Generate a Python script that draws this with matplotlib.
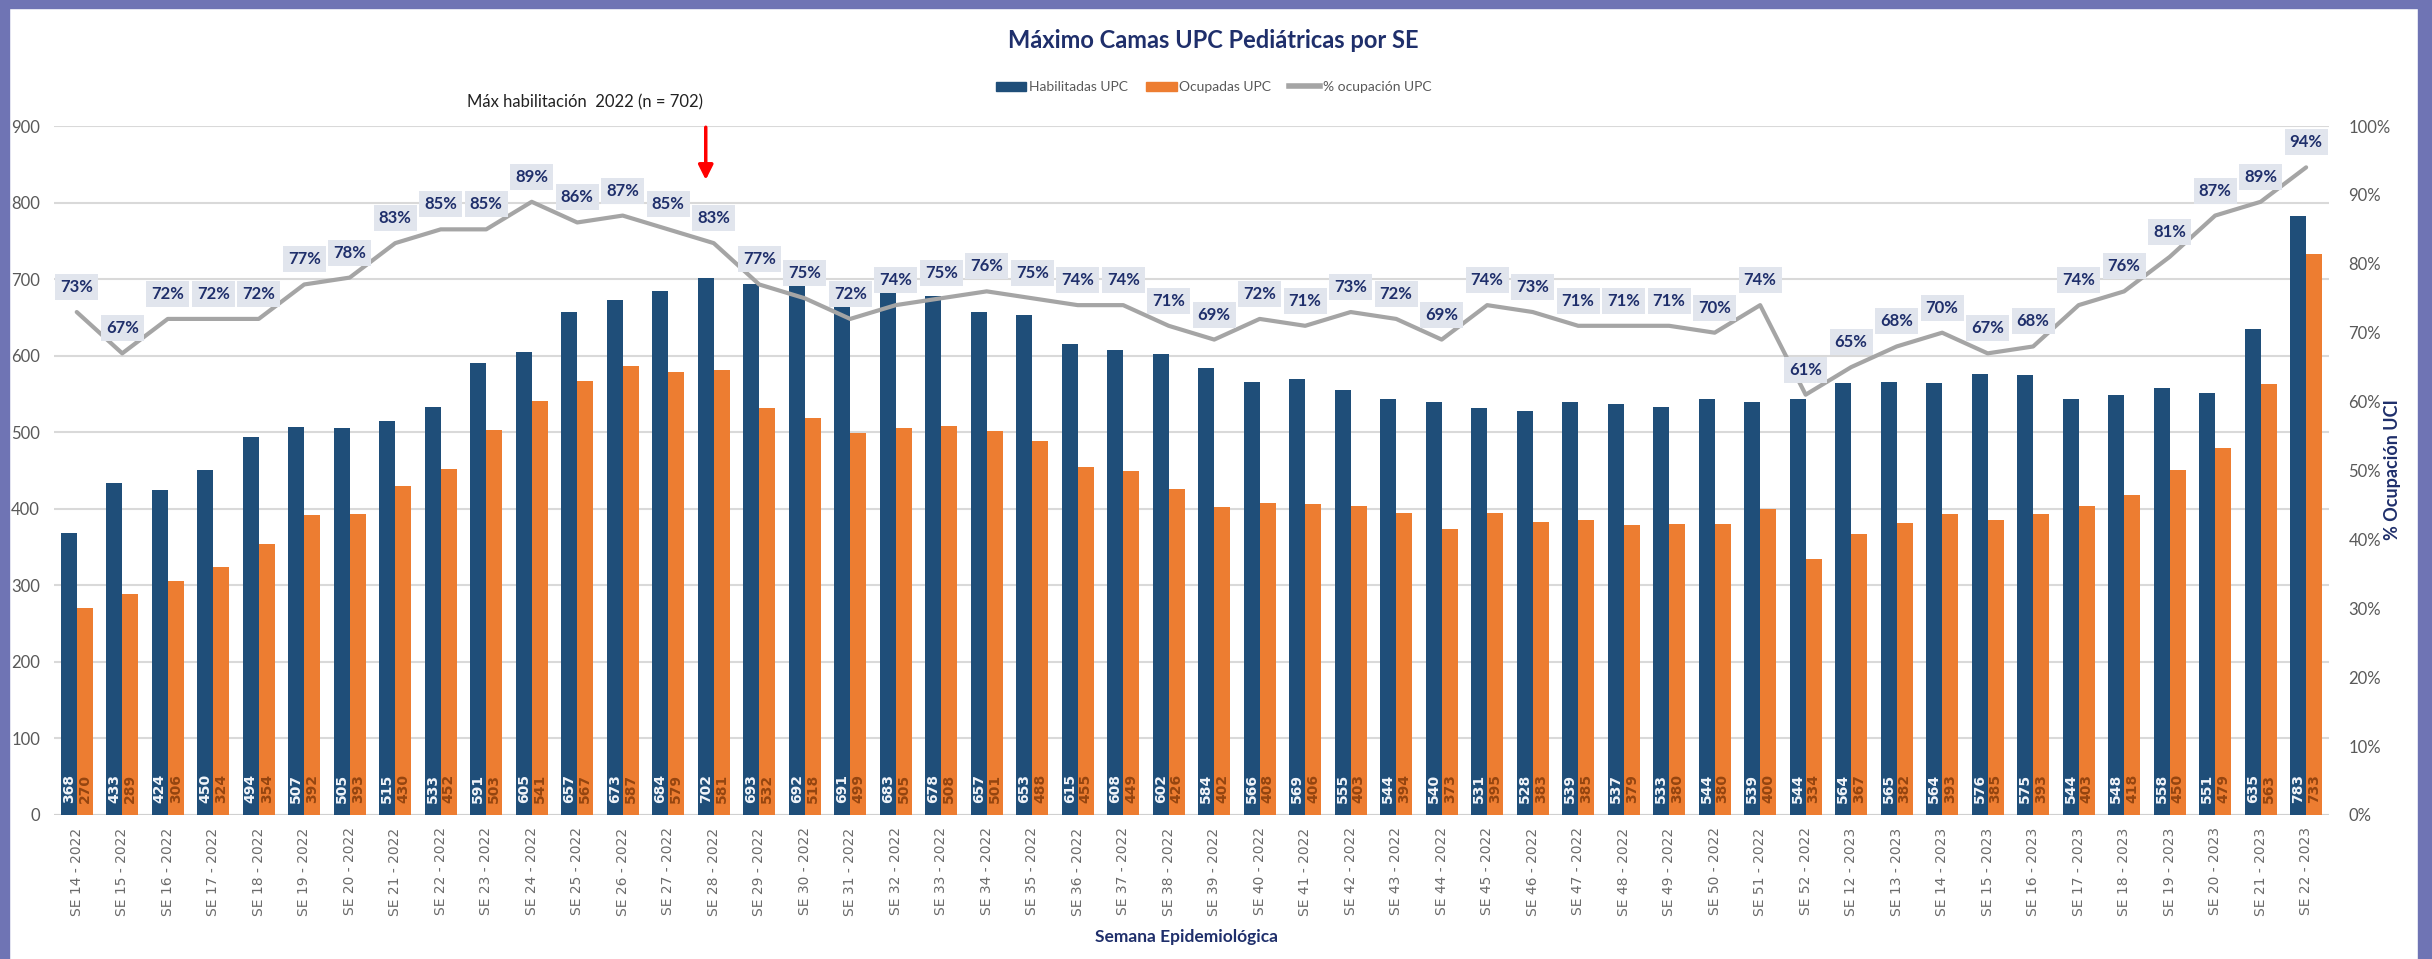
#!/usr/bin/env python3
import matplotlib
matplotlib.use("Agg")
import matplotlib.pyplot as plt
from matplotlib.patches import Patch, Rectangle
from matplotlib.lines import Line2D
from matplotlib.ticker import FuncFormatter, MultipleLocator

weeks_2022 = list(range(14, 53))
weeks_2023 = list(range(12, 23))
labels = ["SE %d - 2022" % w for w in weeks_2022] + \
    ["SE %d - 2023" % w for w in weeks_2023]

habilitadas = [368, 433, 424, 450, 494, 507, 505, 515, 533, 591,
               605, 657, 673, 684, 702, 693, 692, 691, 683, 678,
               657, 653, 615, 608, 602, 584, 566, 569, 555, 544,
               540, 531, 528, 539, 537, 533, 544, 539, 544,
               564, 565, 564, 576, 575, 544, 548, 558, 551, 635, 783]
ocupadas = [270, 289, 306, 324, 354, 392, 393, 430, 452, 503,
            541, 567, 587, 579, 581, 532, 518, 499, 505, 508,
            501, 488, 455, 449, 426, 402, 408, 406, 403, 394,
            373, 395, 383, 385, 379, 380, 380, 400, 334,
            367, 382, 393, 385, 393, 403, 418, 450, 479, 563, 733]
pct_ocupacion = [73, 67, 72, 72, 72, 77, 78, 83, 85, 85,
                 89, 86, 87, 85, 83, 77, 75, 72, 74, 75,
                 76, 75, 74, 74, 71, 69, 72, 71, 73, 72,
                 69, 74, 73, 71, 71, 71, 70, 74, 61,
                 65, 68, 70, 67, 68, 74, 76, 81, 87, 89, 94]

BLUE = "#1F4E79"
ORANGE = "#ED7D31"
GRAY = "#A5A5A5"
NAVY = "#1F2F6B"
NARROW = ["Lato", "DejaVu Sans"]


def main():
    fig = plt.figure(figsize=(24.32, 9.59), dpi=100)
    ax = fig.add_axes([0.0222, 0.1502, 0.9354, 0.7184])
    ax2 = ax.twinx()

    # purple frame of the original slide
    fig.patches.append(Rectangle((0, 0), 0.0035, 1, transform=fig.transFigure,
                                 color="#6F74B4", zorder=0))
    fig.patches.append(Rectangle((0, 0.992), 1, 0.008,
                                 transform=fig.transFigure,
                                 color="#6F74B4", zorder=0))
    fig.patches.append(Rectangle((0.9942, 0), 0.0058, 1,
                                 transform=fig.transFigure,
                                 color="#6F74B4", zorder=0))

    x = list(range(len(labels)))
    w = 0.35
    xb = [i - w / 2 for i in x]
    xo = [i + w / 2 for i in x]
    ax.bar(xb, habilitadas, width=w, color=BLUE, zorder=3)
    ax.bar(xo, ocupadas, width=w, color=ORANGE, zorder=3)

    for i in x:
        ax.text(xb[i], 15, str(habilitadas[i]), rotation=90, ha="center",
                va="bottom", color="#F2F5FA", fontsize=10,
                fontweight="bold", zorder=4)
        ax.text(xo[i], 15, str(ocupadas[i]), rotation=90, ha="center",
                va="bottom", color="#944510", fontsize=10,
                fontweight="bold", zorder=4)

    ax.set_xlim(-0.5, len(labels) - 0.5)
    ax.set_ylim(0, 900)
    ax.yaxis.set_major_locator(MultipleLocator(100))
    ax.grid(axis="y", color="#D9D9D9", lw=1.5, zorder=0)
    ax.set_axisbelow(True)
    ax.set_xticks(x)
    ax.set_xticklabels(labels, rotation=90, color="#6B6B6B", fontsize=10)
    ax.tick_params(length=0, pad=9)
    ax.tick_params(axis="y", pad=10)
    for t in ax.get_yticklabels():
        t.set_family(NARROW)
        t.set_fontsize(12)
        t.set_color("#595959")
    for s in ax.spines.values():
        s.set_visible(False)
    ax.axhline(0, color="#D0D0D0", lw=1.5, zorder=2)

    ax2.plot(x, [p / 100 for p in pct_ocupacion], color=GRAY, lw=3,
             zorder=5, solid_capstyle="round")
    for i in x:
        ax2.annotate("%d%%" % pct_ocupacion[i], (i, pct_ocupacion[i] / 100),
                     xytext=(0, 18), textcoords="offset points",
                     ha="center", va="center", color=NAVY, fontsize=12,
                     fontweight="bold", family=NARROW, zorder=6,
                     bbox=dict(boxstyle="square,pad=0.3", fc="#E1E5ED",
                               ec="none"))
    ax2.set_ylim(0, 1)
    ax2.yaxis.set_major_locator(MultipleLocator(0.1))
    ax2.yaxis.set_major_formatter(
        FuncFormatter(lambda v, p: "%d%%" % round(v * 100)))
    ax2.tick_params(length=0, pad=14)
    for t in ax2.get_yticklabels():
        t.set_family(NARROW)
        t.set_fontsize(12)
        t.set_color("#595959")
    for s in ax2.spines.values():
        s.set_visible(False)
    fig.text(0.9836, 0.51, "% Ocupación UCI", rotation=90, ha="center",
             va="center", color=NAVY, fontsize=13, fontweight="bold",
             family=NARROW)

    fig.text(0.488, 0.023, "Semana Epidemiológica", ha="center",
             va="center", color=NAVY, fontsize=12.5, fontweight="bold",
             family=NARROW)

    # max 2022 marker
    imax = habilitadas.index(max(habilitadas[:len(weeks_2022)]))
    ax.annotate("", xy=(xb[imax], 826), xytext=(xb[imax], 902),
                arrowprops=dict(arrowstyle="-|>", color="red", lw=2.5,
                                mutation_scale=22),
                annotation_clip=False, zorder=7)
    ax.text(xb[imax] - 0.05, 931,
            "Máx habilitación  2022 (n = %d)" % habilitadas[imax],
            ha="right", va="center", fontsize=12, family=NARROW,
            color="#222222")

    fig.text(0.499, 0.958, "Máximo Camas UPC Pediátricas por SE",
             ha="center", va="center", fontsize=17, fontweight="bold",
             family=NARROW, color=NAVY)

    handles = [Patch(color=BLUE, label="Habilitadas UPC"),
               Patch(color=ORANGE, label="Ocupadas UPC"),
               Line2D([0], [0], color=GRAY, lw=4, label="% ocupación UPC")]
    leg = fig.legend(handles=handles, loc="center", ncol=3,
                     bbox_to_anchor=(0.499, 0.909), frameon=False,
                     prop={"family": NARROW, "size": 10},
                     handlelength=2.2, handleheight=0.7, columnspacing=1.3,
                     handletextpad=0.2)
    for t in leg.get_texts():
        t.set_color("#595959")

    fig.savefig("out.png", dpi=100, facecolor="white")


if __name__ == "__main__":
    main()
